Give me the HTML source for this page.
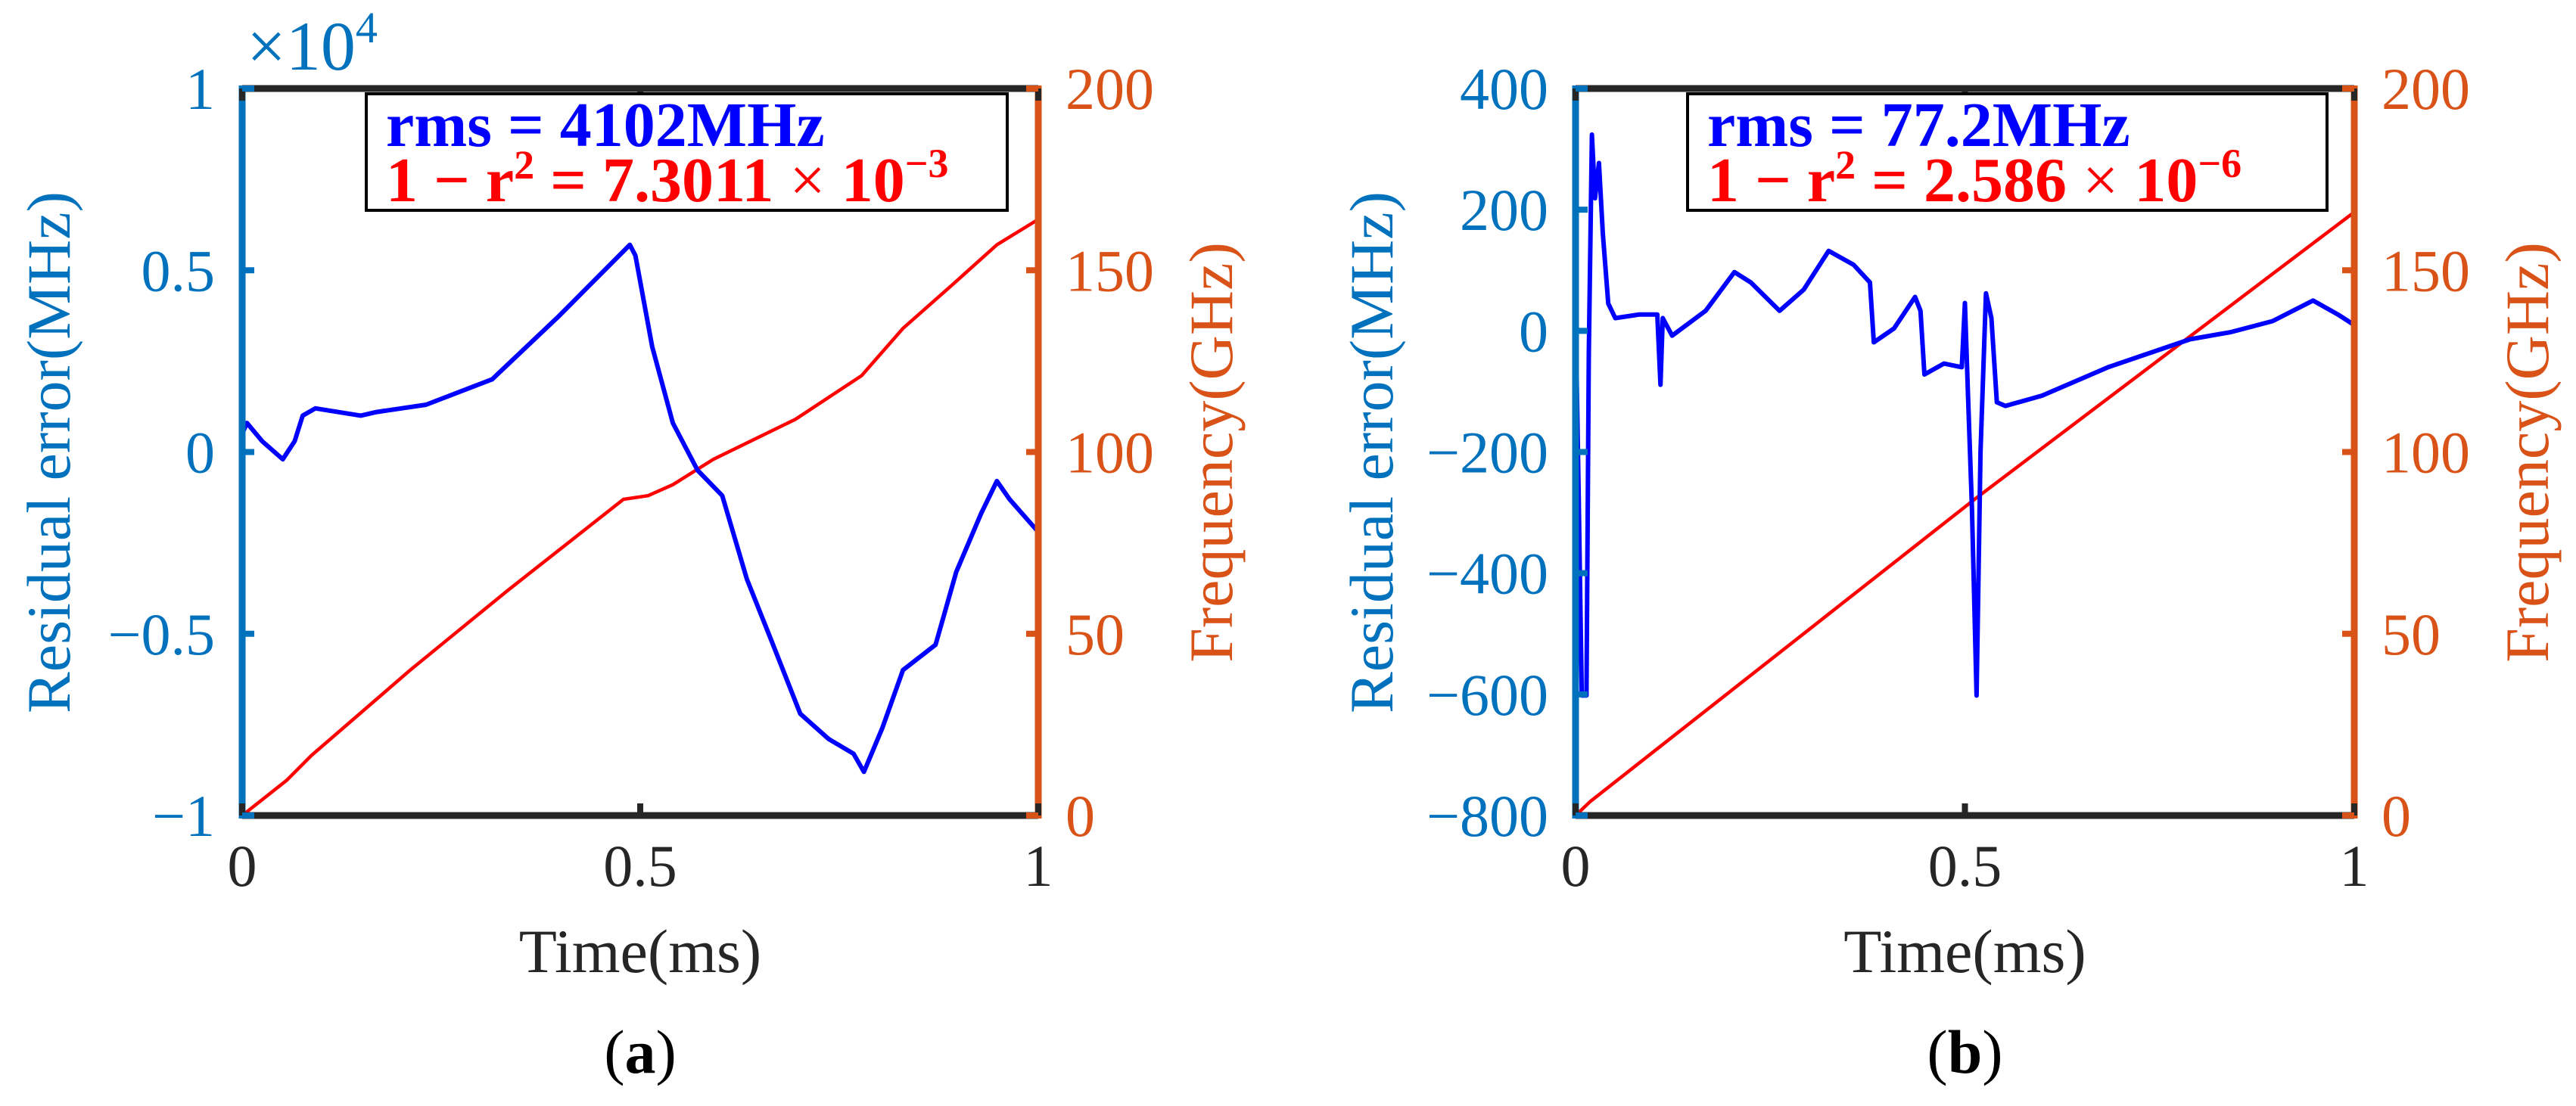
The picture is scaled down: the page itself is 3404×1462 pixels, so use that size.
<!DOCTYPE html>
<html><head><meta charset="utf-8"><style>
html,body{margin:0;padding:0;background:#fff;}
svg{display:block;font-family:"Liberation Serif",serif;}
</style></head><body>
<svg id="chart" width="3404" height="1462" viewBox="0 0 3404 1462" xmlns="http://www.w3.org/2000/svg">
<g id="pa"></g>
<g id="pb"></g>
</svg>
<script>
// Panel (a) data
const aResT = [0,.006,.025,.051,.066,.076,.092,.149,.169,.231,.314,.396,.487,.494,.515,.541,.572,.603,.634,.665,.701,.737,.768,.781,.804,.830,.871,.897,.928,.948,.964,1];
const aResV = [0.05,0.08,0.03,-0.02,0.03,0.10,0.12,0.10,0.11,0.13,0.20,0.37,0.57,0.54,0.29,0.08,-0.05,-0.12,-0.35,-0.52,-0.72,-0.79,-0.83,-0.88,-0.76,-0.60,-0.53,-0.33,-0.17,-0.08,-0.13,-0.22];
const aFreqT = [0,.056,.087,.211,.334,.479,.510,.541,.592,.695,.778,.830,.892,.948,1];
const aFreqV = [0,9.7,16.5,40,62,87,88,91,98,109,121,134,146,157,164];
const aLeftTicks = [1,0.5,0,-0.5,-1];
const aLeftLabels = ["1","0.5","0","\u22120.5","\u22121"];
// Panel (b) data
const bResT = [0,.004,.008,.014,.017,.021,.025,.030,.035,.042,.051,.082,.105,.109,.112,.124,.167,.204,.225,.262,.293,.325,.357,.378,.383,.409,.436,.443,.448,.473,.496,.500,.504,.509,.515,.520,.527,.534,.541,.552,.599,.684,.789,.842,.895,.947,.979,.9995,1];
const bResV = [33,-270,-602,-602,-37,324,219,277,161,45,21,27,27,-89,21,-8,33,97,80,33,68,132,109,80,-19,4,56,33,-72,-54,-60,46,-107,-293,-602,-200,62,21,-118,-124,-107,-60,-14,-2,16,50,27,10,155];
const bFreqT = [0,.019,.515,1];
const bFreqV = [0,3.9,87.4,166];
const bLeftTicks = [400,200,0,-200,-400,-600,-800];
const bLeftLabels = ["400","200","0","\u2212200","\u2212400","\u2212600","\u2212800"];
const rightTicks = [0,50,100,150,200];
const xTicks = [0,0.5,1];
const xLabels = ["0","0.5","1"];

const NS="http://www.w3.org/2000/svg";
function mk(parent,tag,attrs,text){const e=document.createElementNS(NS,tag);for(const k in attrs)e.setAttribute(k,attrs[k]);if(text!==undefined)e.textContent=text;parent.appendChild(e);return e;}

function panel(g,cfg){
  const L=cfg.L,R=cfg.R,T=117,B=1078;
  const xs=t=>L+(R-L)*t;
  const yl=v=>B-(B-T)*(v-cfg.lmin)/(cfg.lmax-cfg.lmin);
  const yr=v=>B-(B-T)*v/200;
  const BL="#0072BD",OR="#D95319",DK="#262626";
  let d="";cfg.rT.forEach((t,i)=>{d+=(i?"L":"M")+xs(t).toFixed(1)+","+yr(cfg.rV[i]).toFixed(1);});
  const fl=mk(g,"path",{d:d,fill:"none",stroke:"#ff0000","stroke-width":4.5});
  
  
  d="";cfg.bT.forEach((t,i)=>{d+=(i?"L":"M")+xs(t).toFixed(1)+","+yl(cfg.bV[i]).toFixed(1);});
  const rl=mk(g,"path",{d:d,fill:"none",stroke:"#0000ff","stroke-width":6,"stroke-linejoin":"round"});
  
  
  const top=mk(g,"line",{x1:L,y1:T,x2:R,y2:T,stroke:DK,"stroke-width":9});
  
  
  const bot=mk(g,"line",{x1:L,y1:B,x2:R,y2:B,stroke:DK,"stroke-width":9});
  
  
  const la=mk(g,"line",{x1:L,y1:T-4,x2:L,y2:B+4,stroke:BL,"stroke-width":9});
  
  
  const ra=mk(g,"line",{x1:R,y1:T-4,x2:R,y2:B+4,stroke:OR,"stroke-width":9});
  
  
  xTicks.forEach((t,i)=>{
    mk(g,"line",{x1:xs(t),y1:B,x2:xs(t),y2:B-16,stroke:DK,"stroke-width":8});
    mk(g,"line",{x1:xs(t),y1:T,x2:xs(t),y2:T+16,stroke:DK,"stroke-width":8});
    const tx=mk(g,"text",{x:xs(t),y:1171,"font-size":78,fill:DK,"text-anchor":"middle"},xLabels[i]);
    
    
  });
  cfg.lt.forEach((v,i)=>{
    mk(g,"line",{x1:L,y1:yl(v),x2:L+16,y2:yl(v),stroke:BL,"stroke-width":8});
    const tx=mk(g,"text",{x:L-36,y:yl(v)+27,"font-size":78,fill:BL,"text-anchor":"end"},cfg.ll[i]);
    
    
  });
  rightTicks.forEach(v=>{
    mk(g,"line",{x1:R,y1:yr(v),x2:R-16,y2:yr(v),stroke:OR,"stroke-width":8});
    const tx=mk(g,"text",{x:R+36,y:yr(v)+27,"font-size":78,fill:OR},String(v));
    
    
  });
  const xt=mk(g,"text",{x:(L+R)/2,y:1285,"font-size":82,fill:DK,"text-anchor":"middle"},"Time(ms)");
  
  
  const lt=mk(g,"text",{x:0,y:0,"font-size":82,fill:BL,"text-anchor":"middle",transform:`translate(${cfg.lx},598) rotate(-90)`},"Residual error(MHz)");
  
  
  const rt=mk(g,"text",{x:0,y:0,"font-size":82,fill:OR,"text-anchor":"middle",transform:`translate(${cfg.rx},598) rotate(-90)`},"Frequency(GHz)");
  
  
  const cap=mk(g,"text",{x:(L+R)/2,y:1418,"font-size":82,fill:"#000","text-anchor":"middle"},"");
  
  
  mk(cap,"tspan",{},"(");mk(cap,"tspan",{"font-weight":"bold"},cfg.cap);mk(cap,"tspan",{},")");
  const lg=mk(g,"g",{});
  
  
  mk(lg,"rect",{x:cfg.bx,y:124,width:cfg.bw,height:154,fill:"#fff",stroke:"#000","stroke-width":4});
  mk(lg,"text",{x:cfg.bx+26,y:193,"font-size":84,"font-weight":"bold",fill:"#0000ff"},cfg.rms);
  const t2=mk(lg,"text",{x:cfg.bx+26,y:266,"font-size":84,"font-weight":"bold",fill:"#ff0000"},"");
  mk(t2,"tspan",{},"1 \u2212 r");
  mk(t2,"tspan",{"font-size":54,dy:-30},"2");
  mk(t2,"tspan",{dy:30}," = "+cfg.r2+" ");
  mk(t2,"tspan",{"font-weight":"normal"},"\u00d7");
  mk(t2,"tspan",{}," 10");
  mk(t2,"tspan",{"font-size":54,dy:-32},cfg.exp);
}
panel(document.getElementById("pa"),{L:320,R:1372,lmin:-1,lmax:1,bT:aResT,bV:aResV,rT:aFreqT,rV:aFreqV,lt:aLeftTicks,ll:aLeftLabels,lx:92,rx:1628,cap:"a",bx:484,bw:847,rms:"rms = 4102MHz",r2:"7.3011",exp:"\u22123"});
panel(document.getElementById("pb"),{L:2082,R:3111,lmin:-800,lmax:400,bT:bResT,bV:bResV,rT:bFreqT,rV:bFreqV,lt:bLeftTicks,ll:bLeftLabels,lx:1840,rx:3367,cap:"b",bx:2230,bw:845,rms:"rms = 77.2MHz",r2:"2.586",exp:"\u22126"});
const ex=document.createElementNS(NS,"text");


ex.setAttribute("x",326);ex.setAttribute("y",92);ex.setAttribute("font-size",92);ex.setAttribute("fill","#0072BD");
ex.innerHTML='\u00d710<tspan font-size="58" dy="-36">4</tspan>';
document.getElementById("pa").appendChild(ex);
</script>
</body></html>
